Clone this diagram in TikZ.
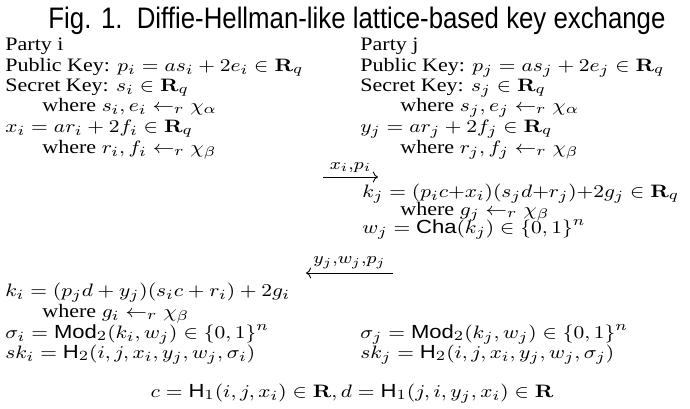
\documentclass[tikz,border=0pt]{standalone}
\usepackage{amsmath,amssymb}
\usepackage{graphicx}
\usepackage[no-math]{fontspec}
\setmainfont{Liberation Serif}
\setsansfont{Liberation Sans}
\usetikzlibrary{arrows.meta}

\newcommand{\Cha}{\textsf{Cha}}
\newcommand{\Mod}{\textsf{Mod}}
\newcommand{\Hash}{\textsf{H}}
\newcommand{\Rq}{\mathbf{R}_q}
\newcommand{\wideline}[1]{\scalebox{1.16}[1]{#1}}

\tikzset{
  line/.style={anchor=base west,inner sep=0pt,font=\fontsize{9.5}{11}\selectfont},
  msg/.style={-{Computer Modern Rightarrow},line width=0.45pt},
  msglabel/.style={above=2pt,inner sep=0pt,font=\fontsize{12}{13}\selectfont},
}

\begin{document}
\begin{tikzpicture}[x=0.5pt,y=-0.5pt]
  \useasboundingbox (0,0) rectangle (690,408);
  \node[anchor=base,inner sep=0pt,font=\sffamily\fontsize{12.9}{15}\selectfont] (title) at (357,28)
    {\scalebox{1}[1.15]{Fig. 1.\ \ Diffie-Hellman-like lattice-based key exchange}};
  % party i
  \node[line] (pi) at (5,50) {\wideline{Party i}};
  \node[line] (pki) at (5,71) {\wideline{Public Key: $p_i = as_i + 2e_i \in \Rq$}};
  \node[line] (ski) at (5,91) {\wideline{Secret Key: $s_i \in \Rq$}};
  \node[line] (wsi) at (42,111) {\wideline{where $s_i, e_i \leftarrow_r \chi_\alpha$}};
  \node[line] (xi) at (5,132) {\wideline{$x_i = ar_i + 2f_i \in \Rq$}};
  \node[line] (wri) at (42,153) {\wideline{where $r_i, f_i \leftarrow_r \chi_\beta$}};
  % party j
  \node[line] (pj) at (360,50) {\wideline{Party j}};
  \node[line] (pkj) at (360,71) {\wideline{Public Key: $p_j = as_j + 2e_j \in \Rq$}};
  \node[line] (skj) at (360,91) {\wideline{Secret Key: $s_j \in \Rq$}};
  \node[line] (wsj) at (400,111) {\wideline{where $s_j, e_j \leftarrow_r \chi_\alpha$}};
  \node[line] (yj) at (360,132) {\wideline{$y_j = ar_j + 2f_j \in \Rq$}};
  \node[line] (wrj) at (400,153) {\wideline{where $r_j, f_j \leftarrow_r \chi_\beta$}};
  % first message
  \coordinate (m1a) at (323,177);
  \coordinate (m1b) at (378,177);
  \draw[msg] (m1a) -- node[msglabel] {\wideline{$\scriptstyle x_i,p_i$}} (m1b);
  \node[line] (kj) at (362,197) {\wideline{$k_j = (p_ic{+}x_i)(s_jd{+}r_j){+}2g_j \in \Rq$}};
  \node[line] (wgj) at (400,215) {\wideline{where $g_j \leftarrow_r \chi_\beta$}};
  \node[line] (wj) at (362,233) {\wideline{$w_j = \Cha(k_j) \in \{0,1\}^n$}};
  % second message
  \coordinate (m2a) at (393,273);
  \coordinate (m2b) at (306,273);
  \draw[msg] (m2a) -- node[msglabel] {\wideline{$\scriptstyle y_j,w_j,p_j$}} (m2b);
  \node[line] (ki) at (5,296) {\wideline{$k_i = (p_jd + y_j)(s_ic + r_i) + 2g_i$}};
  \node[line] (wgi) at (42,317) {\wideline{where $g_i \leftarrow_r \chi_\beta$}};
  \node[line] (sgi) at (5,338) {\wideline{$\sigma_i = \Mod_2(k_i,w_j) \in \{0,1\}^n$}};
  \node[line] (sgj) at (360,338) {\wideline{$\sigma_j = \Mod_2(k_j,w_j) \in \{0,1\}^n$}};
  \node[line] (sski) at (5,358) {\wideline{$sk_i = \Hash_2(i,j,x_i,y_j,w_j,\sigma_i)$}};
  \node[line] (sskj) at (360,358) {\wideline{$sk_j = \Hash_2(i,j,x_i,y_j,w_j,\sigma_j)$}};
  % hashes
  \node[line,anchor=base] (hash) at (352,397)
    {\wideline{$c = \Hash_1(i,j,x_i) \in \mathbf{R}, d = \Hash_1(j,i,y_j,x_i) \in \mathbf{R}$}};
\end{tikzpicture}
\end{document}
